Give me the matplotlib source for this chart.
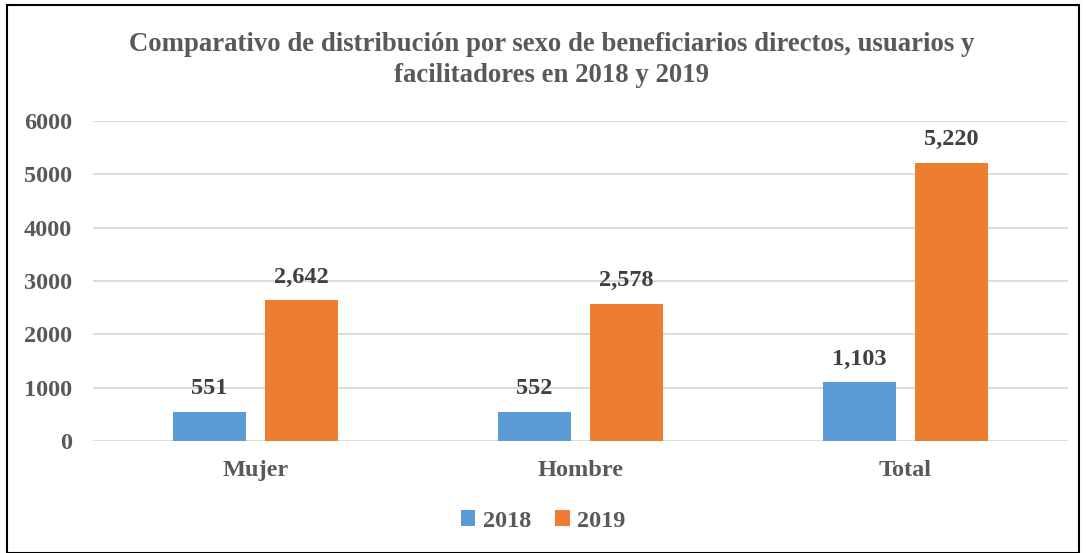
import matplotlib
matplotlib.use("Agg")
import matplotlib.pyplot as plt
import numpy as np
from matplotlib.patches import Rectangle

categories = ["Mujer", "Hombre", "Total"]
series_names = ["2018", "2019"]
values_2018 = [551, 552, 1103]
values_2019 = [2642, 2578, 5220]
yticks = [0, 1000, 2000, 3000, 4000, 5000, 6000]
title = "Comparativo de distribución por sexo de beneficiarios directos, usuarios y\nfacilitadores en 2018 y 2019"

plt.rcParams['font.family'] = ['Liberation Serif', 'DejaVu Serif']
plt.rcParams['font.weight'] = 'bold'

W, H = 1086, 553
fig = plt.figure(figsize=(W/100, H/100), dpi=100)
fig.patch.set_facecolor('white')
# outer border
fig.add_artist(Rectangle((7/W, 0), (1079-7)/W, 1 - 5/H, transform=fig.transFigure,
                         fill=False, edgecolor='black', linewidth=1.5))

left, right = 93/W, 1068/W
top, bottom = 1 - 121/H, 1 - 441/H
ax = fig.add_axes([left, bottom, right-left, top-bottom])

x = np.arange(len(categories))
bw = 0.225
off = 0.1415
c18, c19 = '#5B9BD5', '#ED7D31'
b1 = ax.bar(x - off, values_2018, bw, color=c18, label=series_names[0], zorder=3)
b2 = ax.bar(x + off, values_2019, bw, color=c19, label=series_names[1], zorder=3)

for bars, vals in ((b1, values_2018), (b2, values_2019)):
    for r, v in zip(bars, vals):
        ax.annotate(f"{v:,}", (r.get_x() + r.get_width()/2, v), xytext=(0, 9),
                    textcoords='offset points', ha='center', va='bottom',
                    fontsize=17.5, fontweight='bold', color='#404040')

ax.set_xlim(-0.5, len(categories) - 0.5)
ax.set_ylim(0, 6000)
ax.set_yticks(yticks)
ax.set_yticklabels([str(t) for t in yticks])
ax.set_xticks(x)
ax.set_xticklabels(categories)
ax.tick_params(axis='both', length=0, labelsize=17.5, colors='#595959')
ax.tick_params(axis='y', pad=15)
ax.tick_params(axis='x', pad=14)
for lab in ax.get_xticklabels() + ax.get_yticklabels():
    lab.set_fontweight('bold')
ax.grid(axis='y', color='#D9D9D9', linewidth=1.3, zorder=0)
for s in ax.spines.values():
    s.set_visible(False)

fig.text(552/W, 1 - 60/H, title, ha='center', va='center', fontsize=19.3,
         fontweight='bold', color='#595959', linespacing=1.3, multialignment='center')

leg = fig.legend(handles=[b1, b2], loc='center', bbox_to_anchor=(0.5, 1 - 521/H),
                 ncol=2, frameon=False, fontsize=17.5, handlelength=0.6, handleheight=0.6,
                 handletextpad=0.3, columnspacing=1.0)
for t in leg.get_texts():
    t.set_color('#595959')
    t.set_fontweight('bold')

fig.savefig("out.png", dpi=100)
